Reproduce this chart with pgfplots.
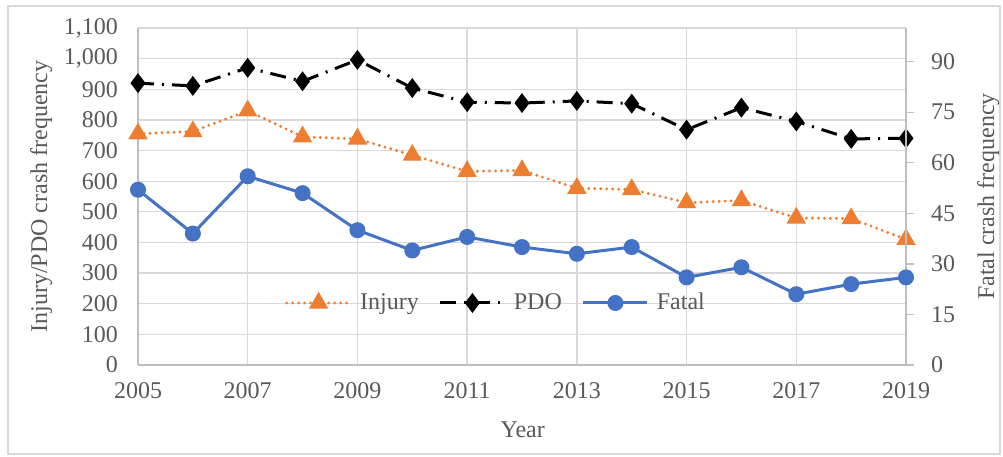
\documentclass[border=0pt]{standalone}
\usepackage{fontspec}
\setmainfont{Liberation Serif}
\usepackage{pgfplots}
\pgfplotsset{compat=1.18}
\definecolor{txt}{HTML}{595959}
\definecolor{gridc}{HTML}{D9D9D9}
\definecolor{axl}{HTML}{BFBFBF}
\definecolor{inj}{HTML}{ED7D31}
\definecolor{fat}{HTML}{4472C4}
\pgfplotsset{
  common/.style={
    at={(138pt,91pt)}, anchor=south west,
    scale only axis, width=768pt, height=337pt,
    xmin=2005, xmax=2019,
    xtick={2005,2007,...,2019},
    ticklabel style={text=txt},
    label style={text=txt},
    /pgf/number format/assume math mode=true,
    /pgf/number format/1000 sep={,},
    xticklabel style={/pgf/number format/1000 sep={}},
    axis line style={axl, line width=1.3pt},
  },
  legend image code/.code={\draw[mark repeat=2,mark phase=2] plot coordinates {(0pt,0pt) (32pt,0pt) (64pt,0pt)};},
  injstyle/.style={inj, line width=3.2pt, dash pattern=on 0pt off 6pt, line cap=round, mark=triangle*, mark size=8pt, mark options={solid, fill=inj, draw=inj}},
  pdostyle/.style={black, line width=3pt, dash pattern=on 16pt off 8pt on 2pt off 8pt, mark=diamond*, mark size=7.5pt, mark options={solid, fill=black}},
  fatstyle/.style={fat, line width=3pt, solid, mark=*, mark size=6.5pt, mark options={fill=fat, draw=fat}},
}
\begin{document}
\fontsize{24}{28}\selectfont
\begin{tikzpicture}[x=1pt,y=1pt]
\path[use as bounding box] (0,0) rectangle (1003,456);
\draw[gridc, line width=1.3pt] (8,2) rectangle (1000,450);
\begin{axis}[common,
  ymin=0, ymax=1100,
  ytick={0,100,...,1100},
  grid=major, major grid style={gridc, line width=1.3pt},
  axis x line*=bottom, axis y line*=left,
  major tick length=0pt,
  xlabel={Year}, ylabel={Injury/PDO crash frequency},
  xlabel style={at={(axis description cs:0.501,-0.193)}, anchor=center},
  ylabel style={at={(axis description cs:-0.126,0.5)}, anchor=center},
  xticklabel style={yshift=-9pt},
  yticklabel style={xshift=-12pt},
]
\addplot[injstyle] coordinates {
(2005,755) (2006,762) (2007,830) (2008,745) (2009,738) (2010,685) (2011,632) (2012,635) (2013,577) (2014,573) (2015,530) (2016,537) (2017,480) (2018,478) (2019,410)};
\addplot[pdostyle] coordinates {
(2005,920) (2006,911) (2007,970) (2008,926) (2009,996) (2010,904) (2011,858) (2012,855) (2013,862) (2014,853) (2015,768) (2016,840) (2017,795) (2018,738) (2019,740)};
\end{axis}
\begin{axis}[common,
  ymin=0, ymax=100,
  ytick={0,15,...,90},
  axis x line=none, axis y line*=right,
  tick align=outside, major tick length=8pt,
  y tick style={axl, line width=1.3pt},
  ylabel={Fatal crash frequency},
  ylabel style={at={(axis description cs:1.107,0.5)}, anchor=center},
  yticklabel style={xshift=9pt},
  legend columns=3,
  legend style={draw=none, fill=none, at={(axis description cs:0.47,0.184)}, anchor=center, text=txt,
    nodes={inner xsep=8pt},
    /tikz/every even column/.append style={column sep=12pt}},
]
\addlegendimage{injstyle}
\addlegendentry{Injury}
\addlegendimage{pdostyle}
\addlegendentry{PDO}
\addplot[fatstyle] coordinates {
(2005,52) (2006,39) (2007,56) (2008,51) (2009,40) (2010,34) (2011,38) (2012,35) (2013,33) (2014,35) (2015,26) (2016,29) (2017,21) (2018,24) (2019,26)};
\addlegendentry{Fatal}
\end{axis}
\end{tikzpicture}
\end{document}
